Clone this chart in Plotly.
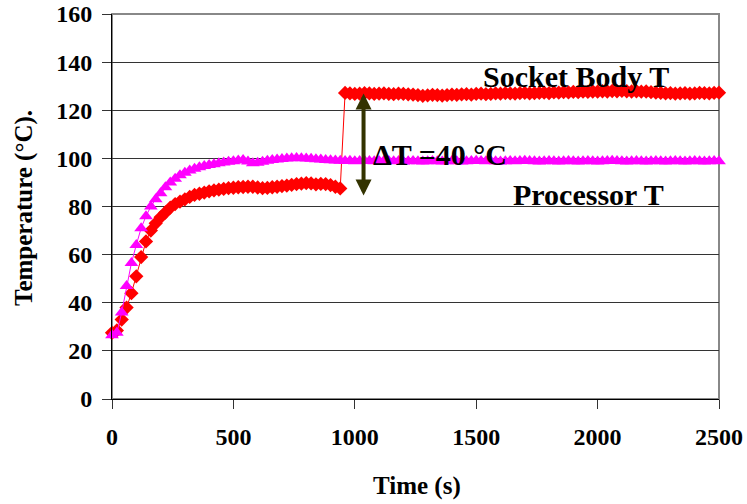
import plotly.graph_objects as go

# Sample times (s) shared by both thermocouple channels
time_s = [
    0, 20, 40, 60, 80, 100, 120, 140, 160, 180,
    200, 220, 240, 260, 280, 300, 320, 340, 360, 380,
    400, 420, 440, 460, 480, 500, 520, 540, 560, 580,
    600, 620, 640, 660, 680, 700, 720, 740, 760, 780,
    800, 820, 840, 860, 880, 900, 920, 940, 960, 980,
    1000, 1020, 1040, 1060, 1080, 1100, 1120, 1140, 1160, 1180,
    1200, 1220, 1240, 1260, 1280, 1300, 1320, 1340, 1360, 1380,
    1400, 1420, 1440, 1460, 1480, 1500, 1520, 1540, 1560, 1580,
    1600, 1620, 1640, 1660, 1680, 1700, 1720, 1740, 1760, 1780,
    1800, 1820, 1840, 1860, 1880, 1900, 1920, 1940, 1960, 1980,
    2000, 2020, 2040, 2060, 2080, 2100, 2120, 2140, 2160, 2180,
    2200, 2220, 2240, 2260, 2280, 2300, 2320, 2340, 2360, 2380,
    2400, 2420, 2440, 2460, 2480, 2500,
]

# Socket body temperature (°C)
socket_body_t = [
    27.5, 28.5, 33.0, 38.0, 44.0, 51.0, 59.0, 65.5, 70.0, 73.0,
    75.5, 77.5, 79.5, 81.0, 82.0, 83.0, 84.0, 84.8, 85.3, 85.8,
    86.3, 86.7, 87.0, 87.3, 87.6, 87.8, 88.0, 88.1, 88.2, 88.2,
    87.9, 87.6, 87.7, 88.0, 88.2, 88.5, 88.7, 89.0, 89.3, 89.5,
    89.7, 89.6, 89.2, 89.4, 89.3, 88.9, 88.2, 87.5,
    127.2, 127.0, 126.8, 126.9, 127.1, 127.0, 126.8, 126.9, 127.0, 126.8,
    126.7, 126.9, 126.8, 126.6, 126.5, 126.3, 126.0, 126.2, 126.4, 126.3,
    126.1, 126.3, 126.5, 126.4, 126.6, 126.7, 126.5, 126.8, 126.9, 126.7,
    126.8, 127.0, 126.9, 127.1, 127.0, 126.9, 127.1, 127.2, 127.0, 127.1,
    127.2, 127.3, 127.1, 127.4, 127.3, 127.5, 127.4, 127.6, 127.5, 127.7,
    127.6, 127.8, 127.7, 127.9, 127.8, 128.0, 127.9, 128.1, 127.9, 127.8,
    127.9, 127.7, 127.8, 127.5, 127.3, 127.2, 127.0, 127.1, 126.9, 127.0,
    127.1, 126.9, 127.0, 127.2, 127.1, 127.0, 127.2, 127.3,
]

# Processor temperature (°C)
processor_t = [
    26.5, 27.5, 36.0, 47.0, 56.5, 64.0, 71.0, 76.0, 80.0, 83.0,
    85.5, 88.0, 90.0, 91.5, 93.0, 94.0, 95.0, 95.7, 96.3, 96.8,
    97.2, 97.6, 98.0, 98.3, 98.6, 98.8, 99.1, 99.3, 98.7, 98.0,
    98.2, 98.6, 99.0, 99.3, 99.5, 99.7, 99.9, 100.1, 100.2, 100.1,
    99.9, 99.8, 99.6, 99.5, 99.3, 99.2, 99.1, 99.0,
    98.9, 99.0, 98.8, 98.9, 99.0, 98.9, 98.8, 98.9, 99.0, 98.9,
    98.8, 98.9, 98.7, 98.8, 98.9, 98.8, 98.7, 98.8, 98.9, 98.8,
    98.7, 98.8, 98.9, 98.8, 98.7, 98.8, 98.9, 99.0, 98.9, 98.8,
    98.9, 98.8, 98.7, 98.8, 98.9, 98.8, 98.9, 99.0, 98.9, 98.8,
    98.7, 98.8, 98.9, 98.8, 98.7, 98.8, 98.9, 98.8, 98.7, 98.8,
    98.9, 98.8, 98.7, 98.8, 98.9, 99.0, 98.9, 98.8, 98.7, 98.8,
    98.9, 98.8, 98.7, 98.8, 98.9, 98.8, 98.7, 98.8, 98.9, 98.8,
    98.7, 98.8, 98.9, 98.8, 98.7, 98.8, 98.9, 98.8,
]

x_ticks = [0, 500, 1000, 1500, 2000, 2500]
y_ticks = [0, 20, 40, 60, 80, 100, 120, 140, 160]

# ΔT marker between the two plateaus
delta_label = "ΔT =40 °C"
delta_time = 1036
delta_top = 127
delta_bottom = 84

FONT = "Liberation Serif, Times New Roman, serif"

fig = go.Figure()

fig.add_trace(go.Scatter(
    x=time_s, y=socket_body_t, mode="lines+markers", name="Socket Body T",
    line=dict(color="#FF0000", width=1),
    marker=dict(symbol="diamond", size=11, color="#FF0000"),
    cliponaxis=False,
))
fig.add_trace(go.Scatter(
    x=time_s, y=processor_t, mode="lines+markers", name="Processor T",
    line=dict(color="#FF00FF", width=1),
    marker=dict(symbol="triangle-up", size=12, color="#FF00FF"),
    cliponaxis=False,
))

L, R, T, B = 112, 28, 14, 105
W, H = 747, 504
pw, ph = W - L - R, H - T - B


def px(xp):
    return (xp - L) / pw


def py(yp):
    return (H - B - yp) / ph


annotations = [
    dict(x=delta_time, y=delta_top, ax=delta_time, ay=delta_bottom,
         xref="x", yref="y", axref="x", ayref="y", text="",
         showarrow=True, arrowhead=2, startarrowhead=2, arrowside="end+start",
         arrowwidth=4, arrowsize=0.8, startarrowsize=0.8, arrowcolor="#333300"),
    dict(x=1913, y=134, xref="x", yref="y", text="Socket Body T",
         showarrow=False, xanchor="center", yanchor="middle",
         font=dict(family=FONT, size=30, color="#000", weight="bold")),
    dict(x=1964, y=85, xref="x", yref="y", text="Processor T",
         showarrow=False, xanchor="center", yanchor="middle",
         font=dict(family=FONT, size=30, color="#000", weight="bold")),
    dict(x=1066, y=101.5, xref="x", yref="y", text=delta_label,
         showarrow=False, xanchor="left", yanchor="middle",
         font=dict(family=FONT, size=30, color="#000", weight="bold")),
    dict(x=px(24), y=py(208), xref="paper", yref="paper", text="Temperature (°C).",
         textangle=-90, showarrow=False, xanchor="center", yanchor="middle",
         font=dict(family=FONT, size=25, color="#000", weight="bold")),
    dict(x=px(417), y=py(486), xref="paper", yref="paper", text="Time (s)",
         showarrow=False, xanchor="center", yanchor="middle",
         font=dict(family=FONT, size=25, color="#000", weight="bold")),
]

fig.update_layout(
    width=W, height=H,
    margin=dict(l=L, r=R, t=T, b=B, pad=0, autoexpand=False),
    paper_bgcolor="white", plot_bgcolor="white",
    showlegend=False,
    font=dict(family=FONT, size=24, color="#000", weight="bold"),
    annotations=annotations,
    shapes=[dict(type="rect", xref="paper", yref="paper", x0=0, y0=0, x1=1, y1=1,
                 line=dict(color="#888888", width=2), layer="below")],
)
fig.update_xaxes(
    range=[0, 2500], tickvals=x_ticks, ticktext=[str(v) for v in x_ticks],
    automargin=False,
    showgrid=False, zeroline=False, showline=True, linecolor="#000", linewidth=1,
    ticks="outside", ticklen=9, tickcolor="#333", tickwidth=1, ticklabelstandoff=7,
    tickfont=dict(family=FONT, size=24, color="#000", weight="bold"),
)
fig.update_yaxes(
    range=[0, 160], tickvals=y_ticks, ticktext=[str(v) for v in y_ticks],
    automargin=False,
    showgrid=True, gridcolor="#333", gridwidth=1, zeroline=False,
    showline=True, linecolor="#000", linewidth=1,
    ticks="outside", ticklen=9, tickcolor="#333", tickwidth=1, ticklabelstandoff=5,
    tickfont=dict(family=FONT, size=24, color="#000", weight="bold"),
)

fig.write_html("out.html")
